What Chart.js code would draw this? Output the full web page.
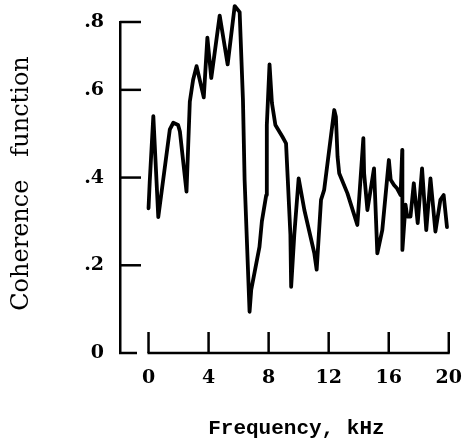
<!DOCTYPE html>
<html>
<head>
<meta charset="utf-8">
<script src="https://cdn.jsdelivr.net/npm/chart.js@4/dist/chart.umd.min.js"></script>
<style>
  html, body { margin: 0; padding: 0; background: #fff; }
  canvas { display: block; }
</style>
</head>
<body>
<canvas id="c" width="468" height="448"></canvas>
<script>
// ---- data ----
const frequencyKHz = [0, 0.08, 0.32, 0.65, 1.42, 1.65, 1.97, 2.09, 2.53, 2.75,
  2.97, 3.2, 3.68, 3.92, 4.18, 4.74, 5.27, 5.74, 6.07, 6.29,
  6.4, 6.73, 6.84, 7.39, 7.55, 7.84, 7.88, 8.06, 8.22, 8.45,
  8.92, 9.16, 9.27, 9.45, 9.5, 9.71, 10.0, 10.38, 11.04, 11.2,
  11.49, 11.7, 12.37, 12.48, 12.59, 12.7, 13.25, 13.91, 14.31, 14.36,
  14.58, 15.02, 15.24, 15.57, 16.01, 16.13, 16.35, 16.56, 16.79, 16.9,
  16.91, 17.12, 17.23, 17.45, 17.67, 17.93, 18.22, 18.5, 18.78, 19.11,
  19.44, 19.66, 19.88];
const coherence = [0.33, 0.39, 0.54, 0.31, 0.51, 0.525, 0.52, 0.505, 0.368, 0.573,
  0.63, 0.67, 0.583, 0.754, 0.635, 0.819, 0.675, 0.847, 0.829, 0.577,
  0.395, 0.094, 0.144, 0.242, 0.30, 0.36, 0.52, 0.675, 0.57, 0.52,
  0.493, 0.478, 0.40, 0.27, 0.151, 0.27, 0.398, 0.326, 0.228, 0.19,
  0.349, 0.372, 0.554, 0.539, 0.448, 0.41, 0.364, 0.292, 0.49, 0.41,
  0.326, 0.421, 0.227, 0.28, 0.44, 0.395, 0.383, 0.375, 0.36, 0.463,
  0.235, 0.338, 0.311, 0.311, 0.387, 0.296, 0.421, 0.28, 0.398, 0.277,
  0.349, 0.36, 0.287];
const xTickValues = [0, 4, 8, 12, 16, 20];
const xTickLabels = ['0', '4', '8', '12', '16', '20'];
const yTickValues = [0, 0.2, 0.4, 0.6, 0.8];
const yTickLabels = ['0', '.2', '.4', '.6', '.8'];
const xTitle = 'Frequency, kHz';
const yTitle = 'Coherence   function';

// ---- the reference's y axis is drawn with a compressed top segment (.6 to .8) ----
const Y_BREAK_VALUE = 0.6;
const Y_BREAK_FRACTION = 0.795;

class CompressedTopScale extends Chart.LinearScale {
  _toDecimal(v) {
    if (v <= Y_BREAK_VALUE) return (v - this.min) / (Y_BREAK_VALUE - this.min) * Y_BREAK_FRACTION;
    return Y_BREAK_FRACTION + (v - Y_BREAK_VALUE) / (this.max - Y_BREAK_VALUE) * (1 - Y_BREAK_FRACTION);
  }
  getPixelForValue(v) {
    if (v === null || v === undefined || isNaN(v)) return NaN;
    return this.getPixelForDecimal(this._toDecimal(v));
  }
  getValueForPixel(p) {
    const d = this.getDecimalForPixel(p);
    if (d <= Y_BREAK_FRACTION) return this.min + d / Y_BREAK_FRACTION * (Y_BREAK_VALUE - this.min);
    return Y_BREAK_VALUE + (d - Y_BREAK_FRACTION) / (1 - Y_BREAK_FRACTION) * (this.max - Y_BREAK_VALUE);
  }
}
CompressedTopScale.id = 'compressedTop';
CompressedTopScale.defaults = Chart.LinearScale.defaults;
Chart.register(CompressedTopScale);

const INK = '#000';

// axis baseline (from first to last x tick), y-axis foot and inward tick marks
const axisMarks = {
  id: 'axisMarks',
  afterDraw(chart) {
    const { ctx, chartArea: a, scales: { x, y } } = chart;
    ctx.save();
    ctx.strokeStyle = INK;
    ctx.lineWidth = 2.5;
    const seg = (x1, y1, x2, y2) => { ctx.beginPath(); ctx.moveTo(x1, y1); ctx.lineTo(x2, y2); ctx.stroke(); };
    const xs = x.ticks.map((t, i) => x.getPixelForTick(i));
    seg(xs[0] - 1, a.bottom, xs[xs.length - 1] + 1, a.bottom);
    seg(a.left - 1, a.bottom, a.left + 17, a.bottom);
    xs.forEach(px => seg(px, a.bottom, px, a.bottom - 21));
    y.ticks.forEach((t, i) => { if (t.value > 0) seg(a.left, y.getPixelForTick(i), a.left + 21, y.getPixelForTick(i)); });
    ctx.restore();
  }
};

// shift axis titles slightly to sit where the reference puts them
const titleShift = {
  id: 'titleShift',
  afterLayout(chart) {
    const shifts = { x: [12, 0], y: [0, -4] };
    Object.keys(shifts).forEach(id => {
      const s = chart.scales[id];
      if (!s || s._shiftPatched) return;
      const orig = s.drawTitle.bind(s);
      s.drawTitle = function () {
        this.ctx.save();
        this.ctx.translate(shifts[id][0], shifts[id][1]);
        orig();
        this.ctx.restore();
      };
      s._shiftPatched = true;
    });
  }
};

new Chart(document.getElementById('c'), {
  type: 'line',
  data: {
    datasets: [{
      data: frequencyKHz.map((f, i) => ({ x: f, y: coherence[i] })),
      borderColor: '#000',
      borderWidth: 3.8,
      pointRadius: 0,
      tension: 0,
      fill: false,
      clip: false,
      borderJoinStyle: 'round',
      borderCapStyle: 'round'
    }]
  },
  options: {
    responsive: false,
    animation: false,
    devicePixelRatio: 1,
    layout: { padding: { top: 22, right: 18, left: 0, bottom: 0 } },
    plugins: { legend: { display: false }, tooltip: { enabled: false } },
    scales: {
      x: {
        type: 'linear',
        min: -1.9,
        max: 20,
        afterBuildTicks: s => { s.ticks = xTickValues.map(v => ({ value: v })); },
        afterFit: s => { s.height = 95; },
        grid: { display: false },
        border: { display: false },
        ticks: {
          padding: 6,
          color: INK,
          font: { family: 'DejaVu Serif', size: 19, weight: 'bold' },
          callback: (v, i) => xTickLabels[i]
        },
        title: {
          display: true,
          text: xTitle,
          color: INK,
          font: { family: 'Liberation Mono', size: 21, weight: 'bold' },
          padding: { top: 0, bottom: 7 }
        }
      },
      y: {
        type: 'compressedTop',
        min: 0,
        max: 0.8,
        afterBuildTicks: s => { s.ticks = yTickValues.map(v => ({ value: v })); },
        afterFit: s => { s.width = 120; },
        grid: { display: false },
        border: { display: true, color: INK, width: 2.5 },
        ticks: {
          padding: 8,
          color: INK,
          font: { family: 'DejaVu Serif', size: 19, weight: 'bold' },
          callback: (v, i) => yTickLabels[i]
        },
        title: {
          display: true,
          text: yTitle,
          color: INK,
          font: { family: 'DejaVu Serif', size: 24 },
          padding: { top: 7, bottom: 0 }
        }
      }
    }
  },
  plugins: [axisMarks, titleShift]
});
</script>
</body>
</html>
